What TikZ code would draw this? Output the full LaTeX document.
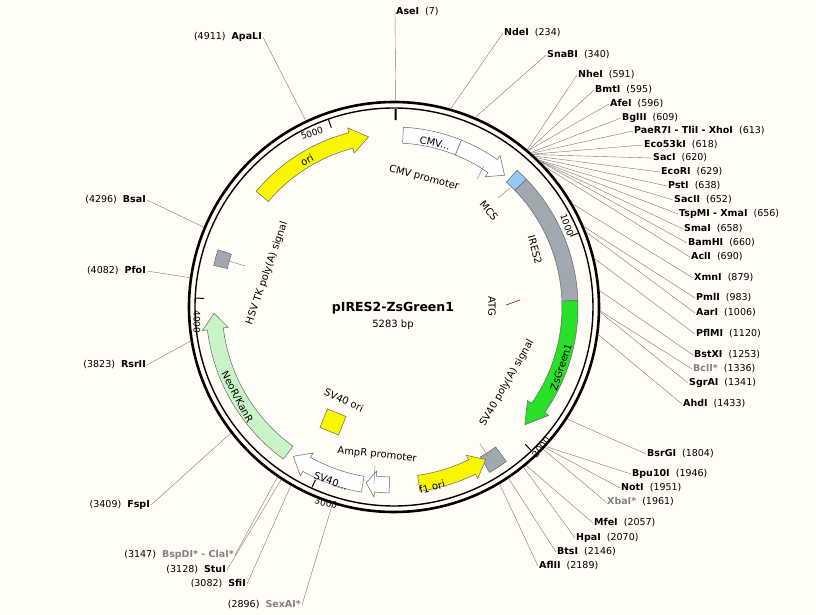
\documentclass[tikz,border=0pt]{standalone}
\usepackage{fontspec}
\setmainfont{DejaVu Sans}
\definecolor{bg}{RGB}{255,253,245}
\definecolor{featgray}{RGB}{160,168,176}
\definecolor{mcsblue}{RGB}{150,200,245}
\definecolor{zsgreen}{RGB}{40,224,40}
\definecolor{neogreen}{RGB}{200,245,200}
\definecolor{oriyel}{RGB}{250,245,0}
\definecolor{leadgray}{RGB}{120,120,120}
\definecolor{starg}{RGB}{130,130,130}
\tikzset{
  feat/.style={draw=black!60, line width=0.5pt},
  lead/.style={draw=leadgray, line width=0.4pt},
  site/.style={inner sep=1pt, font=\fontsize{9.5}{11}\selectfont},
  flabel/.style={inner sep=0pt, font=\fontsize{10}{11}\selectfont},
  tnum/.style={inner sep=0pt, font=\fontsize{9}{10}\selectfont},
}
\newcommand\angof[1]{90-#1*0.0681431}
\newcommand\rsite[6]{%
  \coordinate (c#1) at ({\angof{#2}}:206);
  \node[site,anchor=#5] (s#1) at (#3-394,307-#4) {#6};
  \draw[lead] (c#1) -- (s#1.#5);}
\newcommand\featseg[5]{% c1 c2 r halfwidth fill
  \pgfmathsetmacro\PMa{90-#1}\pgfmathsetmacro\PMb{90-#2}
  \draw[feat,fill=#5] (\PMa:#3-#4) arc[start angle=\PMa,end angle=\PMb,radius=#3-#4]
    -- (\PMb:#3+#4) arc[start angle=\PMb,end angle=\PMa,radius=#3+#4] -- cycle;}
\newcommand\featarrow[5]{% c1 c2(tip) r fill headdeg
  \pgfmathsetmacro\PMa{90-#1}\pgfmathsetmacro\PMb{90-#2}
  \pgfmathsetmacro\PMh{(\PMa>\PMb) ? (\PMb+#5) : (\PMb-#5)}
  \draw[feat,fill=#4] (\PMa:#3-8) arc[start angle=\PMa,end angle=\PMh,radius=#3-8]
    -- (\PMh:#3-13) -- (\PMb:#3) -- (\PMh:#3+13) -- (\PMh:#3+8)
    arc[start angle=\PMh,end angle=\PMa,radius=#3+8] -- cycle;}
\begin{document}
\begin{tikzpicture}[x=1pt,y=1pt]
\fill[bg] (-394,-308) rectangle (422,307);
\useasboundingbox (-394,-308) rectangle (422,307);
% ring
\draw[line width=2.6pt] (0,0) circle[radius=205];
\draw[line width=1.4pt] (0,0) circle[radius=199];
% ticks
\draw[line width=2pt] ({\angof{7}}:187) -- ({\angof{7}}:198);
\foreach \t in {1000,2000,3000,4000,5000}{\draw[line width=1pt] ({\angof{\t}}:190) -- ({\angof{\t}}:198);}
\node[tnum,rotate=20] (t5000) at (312-394,307-133) {5000};
\node[tnum,rotate=-70] (t1000) at (567-394,307-225) {1000};
\node[tnum,rotate=52] (t2000) at (541-394,307-447) {2000};
\node[tnum,rotate=-12] (t3000) at (326-394,307-503) {3000};
\node[tnum,rotate=-90] (t4000) at (197-394,307-322) {4000};
% features
\featseg{3}{22}{172}{8}{white}
\featarrow{22}{40}{172}{white}{5}
\featseg{46}{88}{176}{8}{featgray}
\featseg{42}{46}{176}{8}{mcsblue}
\featarrow{88}{132}{176}{zsgreen}{7}
\featseg{144}{150}{182}{9}{featgray}
\featarrow{172}{149}{178}{oriyel}{5}
\featarrow{181.5}{189}{178}{white}{3}
\featarrow{190}{214}{180}{white}{5}
\featarrow{216}{268}{180}{neogreen}{5}
\featseg{283}{288}{178}{7}{featgray}
\featarrow{310}{351.5}{172}{oriyel}{6}
\draw[feat,fill=oriyel,rotate around={-22:(333-394,307-422)}] (323-394,307-412) rectangle (343-394,307-432);
\draw[red!60!black,line width=0.6pt] (506-394,307-305) -- (520-394,307-300);
% feature labels
\node[flabel,rotate=-12] (lcmv) at (435-394,307-143) {CMV...};
\node[flabel,rotate=-15] (lcmvp) at (424-394,307-178) {CMV promoter};
\draw[lead] (477-394,307-179) -- (484-394,307-166);
\node[flabel,rotate=-50] (lmcs) at (489-394,307-211) {MCS};
\draw[lead] (498-394,307-198) -- (510-394,307-188);
\node[flabel,rotate=-75] (lires) at (535-394,307-250) {IRES2};
\node[flabel,rotate=-90] (latg) at (492-394,307-306) {ATG};
\node[flabel,rotate=60] (lpa) at (507-394,307-383) {SV40 poly(A) signal};
\draw[lead] (480-394,307-444) -- (488-394,307-456);
\node[flabel,rotate=72] (lzs) at (561-394,307-367) {ZsGreen1};
\node[flabel,rotate=15] (lf1) at (432-394,307-487) {f1 ori};
\node[flabel,rotate=-6] (lamp) at (377-394,307-455) {AmpR promoter};
\draw[lead] (375-394,307-465) -- (374-394,307-484);
\node[flabel,rotate=-20] (lsv) at (331-394,307-481) {SV40...};
\node[flabel,rotate=-25] (lsvo) at (344-394,307-400) {SV40 ori};
\node[flabel,rotate=-62] (lneo) at (237-394,307-397) {NeoR/KanR};
\node[flabel,rotate=71] (lhsv) at (267-394,307-273) {HSV TK poly(A) signal};
\draw[lead] (229-394,307-261) -- (245-394,307-266);
\node[flabel,rotate=30] (lori) at (307-394,307-160) {ori};
\node[inner sep=0pt,font=\fontsize{12.5}{14}\selectfont\bfseries] (title) at (393-394,307-308) {pIRES2-ZsGreen1};
\node[flabel] (bp) at (393-394,307-325) {5283 bp};
% sites right
\rsite{ase}{7}{395}{12}{west}{\textbf{AseI}~~(7)}
\rsite{nde}{234}{503}{33}{west}{\textbf{NdeI}~~(234)}
\rsite{sna}{340}{546}{55}{west}{\textbf{SnaBI}~~(340)}
\rsite{nhe}{591}{577}{75}{west}{\textbf{NheI}~~(591)}
\rsite{bmt}{595}{594}{90}{west}{\textbf{BmtI}~~(595)}
\rsite{afe}{596}{609}{104}{west}{\textbf{AfeI}~~(596)}
\rsite{bgl}{609}{621}{118}{west}{\textbf{BglII}~~(609)}
\rsite{pae}{613}{633}{131}{west}{\textbf{PaeR7I - TliI - XhoI}~~(613)}
\rsite{eco5}{618}{643}{145}{west}{\textbf{Eco53kI}~~(618)}
\rsite{sac}{620}{652}{158}{west}{\textbf{SacI}~~(620)}
\rsite{ecor}{629}{660}{172}{west}{\textbf{EcoRI}~~(629)}
\rsite{pst}{638}{667}{186}{west}{\textbf{PstI}~~(638)}
\rsite{sac2}{652}{673}{200}{west}{\textbf{SacII}~~(652)}
\rsite{tsp}{656}{678}{214}{west}{\textbf{TspMI - XmaI}~~(656)}
\rsite{sma}{658}{683}{229}{west}{\textbf{SmaI}~~(658)}
\rsite{bam}{660}{687}{243}{west}{\textbf{BamHI}~~(660)}
\rsite{acl}{690}{690}{257}{west}{\textbf{AclI}~~(690)}
\rsite{xmn}{879}{693}{278}{west}{\textbf{XmnI}~~(879)}
\rsite{pml}{983}{695}{298}{west}{\textbf{PmlI}~~(983)}
\rsite{aar}{1006}{695}{313}{west}{\textbf{AarI}~~(1006)}
\rsite{pfl}{1120}{695}{334}{west}{\textbf{PflMI}~~(1120)}
\rsite{bstx}{1253}{693}{355}{west}{\textbf{BstXI}~~(1253)}
\rsite{bcl}{1336}{692}{369}{west}{\textcolor{starg}{\textbf{BclI*}}~~(1336)}
\rsite{sgr}{1341}{688}{383}{west}{\textbf{SgrAI}~~(1341)}
\rsite{ahd}{1433}{682}{404}{west}{\textbf{AhdI}~~(1433)}
\rsite{bsrg}{1804}{646}{454}{west}{\textbf{BsrGI}~~(1804)}
\rsite{bpu}{1946}{631}{474}{west}{\textbf{Bpu10I}~~(1946)}
\rsite{not}{1951}{620}{488}{west}{\textbf{NotI}~~(1951)}
\rsite{xba}{1961}{606}{502}{west}{\textcolor{starg}{\textbf{XbaI*}}~~(1961)}
\rsite{mfe}{2057}{593}{523}{west}{\textbf{MfeI}~~(2057)}
\rsite{hpa}{2070}{575}{538}{west}{\textbf{HpaI}~~(2070)}
\rsite{bts}{2146}{556}{552}{west}{\textbf{BtsI}~~(2146)}
\rsite{afl}{2189}{538}{566}{west}{\textbf{AflII}~~(2189)}
% sites left
\rsite{apa}{4911}{263}{37}{east}{(4911)~~\textbf{ApaLI}}
\rsite{bsa}{4296}{147}{200}{east}{(4296)~~\textbf{BsaI}}
\rsite{pfo}{4082}{147}{271}{east}{(4082)~~\textbf{PfoI}}
\rsite{rsr}{3823}{147}{365}{east}{(3823)~~\textbf{RsrII}}
\rsite{fsp}{3409}{151}{505}{east}{(3409)~~\textbf{FspI}}
\rsite{bsp}{3147}{235}{555}{east}{(3147)~~\textcolor{starg}{\textbf{BspDI* - ClaI*}}}
\rsite{stu}{3128}{227}{570}{east}{(3128)~~\textbf{StuI}}
\rsite{sfi}{3082}{247}{584}{east}{(3082)~~\textbf{SfiI}}
\rsite{sex}{2896}{302}{605}{east}{(2896)~~\textcolor{starg}{\textbf{SexAI*}}}
\end{tikzpicture}
\end{document}
